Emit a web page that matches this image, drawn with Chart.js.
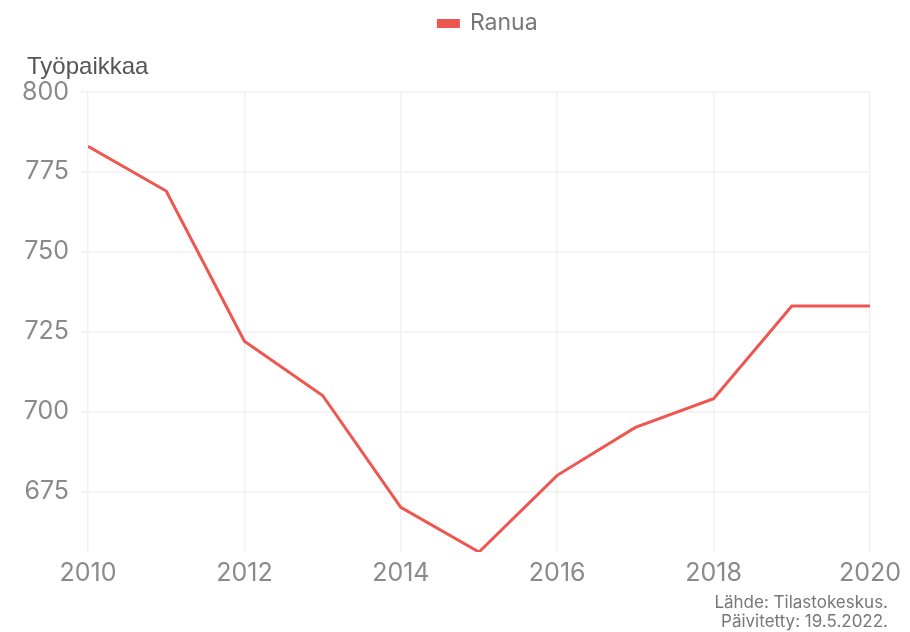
<!DOCTYPE html>
<html>
<head>
<meta charset="utf-8">
<script src="https://cdn.jsdelivr.net/npm/chart.js@4.4.1/dist/chart.umd.min.js"></script>
<style>
  html, body { margin: 0; padding: 0; background: #fff; }
  #wrap { width: 910px; height: 632px; }
</style>
</head>
<body>
<div id="wrap"><canvas id="jobsChart"></canvas></div>
<script>
var years = [2010, 2011, 2012, 2013, 2014, 2015, 2016, 2017, 2018, 2019, 2020];
var ranua = [783, 769, 722, 705, 670, 656, 680, 695, 704, 733, 733];
var yTicks = [675, 700, 725, 750, 775, 800];
var seriesName = 'Ranua';
var yTitle = 'Työpaikkaa';
var sourceLines = ['Lähde: Tilastokeskus.', 'Päivitetty: 19.5.2022.'];

var gridColor = '#f1f1f1';
var tickColor = '#8a8a8a';
var fontFamily = 'Inter, "Liberation Sans", sans-serif';

// y axis title above the axis and the source note in the bottom right corner
var textPlugin = {
    id: 'extraText',
    afterDraw: function (chart) {
        var ctx = chart.ctx;
        ctx.save();
        ctx.textBaseline = 'alphabetic';
        ctx.font = '24px "Liberation Sans", Arial, sans-serif';
        ctx.fillStyle = '#555';
        ctx.textAlign = 'left';
        ctx.fillText(yTitle, 27, 74);
        ctx.font = '17px ' + fontFamily;
        ctx.fillStyle = '#777';
        ctx.textAlign = 'right';
        ctx.fillText(sourceLines[0], 888, 608);
        ctx.fillText(sourceLines[1], 888, 627);
        ctx.restore();
    }
};

// extra room under the legend, and move it a bit right like the original
var legendTweak = {
    id: 'legendTweak',
    beforeInit: function (chart) {
        var fit = chart.legend.fit;
        chart.legend.fit = function () {
            fit.bind(chart.legend)();
            this.height += 47;
        };
    },
    afterLayout: function (chart) {
        chart.legend.left += 48;
        chart.legend.right += 48;
    }
};

var ctx = document.getElementById('jobsChart').getContext('2d');
var jobsChart = new Chart(ctx, {
    type: 'line',
    data: {
        datasets: [{
            label: seriesName,
            data: years.map(function (y, i) { return { x: y, y: ranua[i] }; }),
            borderColor: '#ee5650',
            backgroundColor: '#ee5650',
            borderWidth: 3,
            pointRadius: 0,
            tension: 0
        }]
    },
    options: {
        responsive: true,
        maintainAspectRatio: false,
        animation: false,
        layout: { padding: { left: 10, right: 40, top: 2, bottom: 38 } },
        plugins: {
            legend: {
                position: 'top',
                labels: {
                    color: '#777',
                    font: { family: fontFamily, size: 23 },
                    boxWidth: 20,
                    boxHeight: 6,
                    padding: 10
                }
            },
            tooltip: { enabled: false }
        },
        scales: {
            x: {
                type: 'linear',
                min: 2010,
                max: 2020,
                ticks: {
                    stepSize: 1,
                    color: tickColor,
                    font: { family: fontFamily, size: 25 },
                    padding: 6,
                    maxRotation: 0,
                    autoSkip: false,
                    callback: function (v) { return v % 2 === 0 ? String(v) : null; }
                },
                grid: { color: gridColor, lineWidth: 1.5, drawTicks: false },
                border: { display: false }
            },
            y: {
                min: 656,
                max: 800,
                afterBuildTicks: function (scale) {
                    scale.ticks = yTicks.map(function (v) { return { value: v }; });
                },
                ticks: {
                    color: tickColor,
                    font: { family: fontFamily, size: 25 },
                    padding: 12
                },
                grid: { color: gridColor, lineWidth: 1.5, tickLength: 7 },
                border: { display: false }
            }
        }
    },
    plugins: [textPlugin, legendTweak]
});
</script>
</body>
</html>
